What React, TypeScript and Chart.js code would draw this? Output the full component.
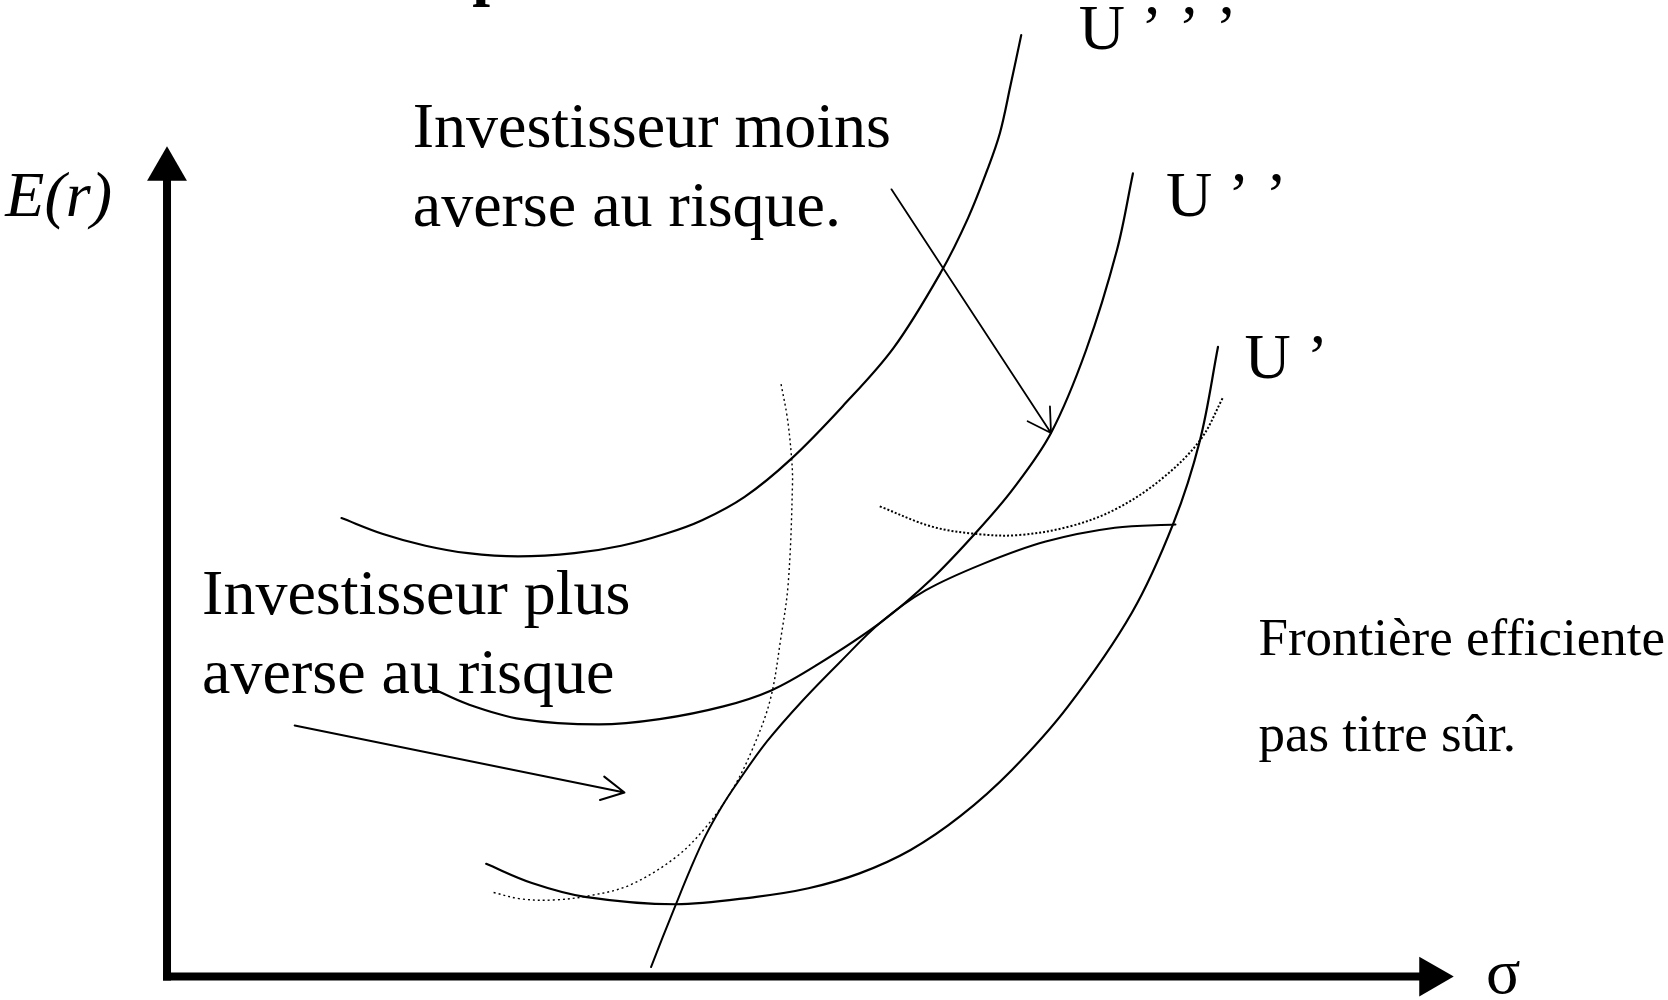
import { useEffect, useRef } from "react";
import { Chart, registerables } from "chart.js";

Chart.register(...registerables);

// ---- Data (σ on x, E(r) on y, arbitrary diagram units, origin at the axes corner) ----
const U3_SIGMA = [164, 203, 243, 283, 330, 383, 427, 468, 503, 543, 586, 635, 683, 728, 753, 771, 783, 793, 803];
const U3_ER = [431, 416, 405, 398, 395, 398, 405, 416, 429, 451, 486, 536, 591, 663, 713, 758, 793, 838, 885];

const U2_SIGMA = [247, 283, 333, 406, 463, 523, 568, 611, 671, 718, 761, 795, 831, 864, 893, 908];
const U2_ER = [272, 256, 242, 237, 242, 254, 269, 293, 333, 373, 418, 458, 511, 589, 683, 755];

const U1_SIGMA = [300, 343, 393, 478, 554, 603, 651, 699, 746, 794, 847, 907, 946, 971, 988];
const U1_ER = [106, 88, 75, 68, 75, 83, 97, 119, 151, 194, 254, 342, 426, 504, 592];

const FRONTIER_SIGMA = [455, 466, 478, 492, 506, 521, 536, 564, 598, 633, 671, 713, 767, 826, 891, 948];
const FRONTIER_ER = [9, 37, 67, 101, 132, 159, 182, 221, 260, 296, 333, 363, 388, 409, 422, 425];

const AVERSE_SIGMA = [307, 333, 363, 397, 435, 478, 507, 531, 550, 567, 577, 584, 588, 587, 583, 577];
const AVERSE_ER = [79, 73, 72, 76, 86, 112, 141, 175, 213, 260, 318, 370, 464, 489, 526, 558];

const TOLERANT_SIGMA = [670, 719, 762, 800, 848, 891, 934, 971, 993];
const TOLERANT_ER = [442, 423, 416, 415, 423, 439, 467, 504, 545];

const ARROW_MOINS_SIGMA = [681, 831, 809, 831, 830];
const ARROW_MOINS_ER = [740, 511, 522, 511, 536];

const ARROW_PLUS_SIGMA = [120, 430, 411, 430, 407];
const ARROW_PLUS_ER = [236, 173, 188, 173, 166];

const AXIS_ER_SIGMA = [0, 0];
const AXIS_ER_ER = [0, 752];
const AXIS_SIGMA_SIGMA = [0, 1180];
const AXIS_SIGMA_ER = [0, 0];
const ARROWHEAD_ER = { x: 0, y: 759 };
const ARROWHEAD_SIGMA = { x: 1188, y: 0 };

const SCALE_SIGMA = { min: -157, max: 1411 };
const SCALE_ER = { min: -22, max: 918 };

// ---- Labels ----
const SERIF = '"Liberation Serif", "Times New Roman", serif';
const LABELS = [
  { text: "Investisseur moins", x: 231, y: 780, font: `64px ${SERIF}` },
  { text: "averse au risque.", x: 231, y: 706, font: `64px ${SERIF}` },
  { text: "Investisseur plus", x: 33, y: 341, font: `64px ${SERIF}` },
  { text: "averse au risque", x: 33, y: 267, font: `64px ${SERIF}` },
  { text: "U \u2019 \u2019 \u2019", x: 857, y: 872, font: `64px ${SERIF}` },
  { text: "U \u2019 \u2019", x: 939, y: 715, font: `64px ${SERIF}` },
  { text: "U \u2019", x: 1013, y: 563, font: `64px ${SERIF}` },
  { text: "Fronti\u00e8re efficiente", x: 1026, y: 302, font: `53px ${SERIF}` },
  { text: "pas titre s\u00fbr.", x: 1026, y: 212, font: `53px ${SERIF}` },
  { text: "E(r)", x: -152, y: 715, font: `italic 64px ${SERIF}` },
  { text: "\u03c3", x: 1240, y: -15, font: `64px ${SERIF}` },
  { text: "p", x: 287, y: 925, font: `bold 64px ${SERIF}` },
];

function pts(xs: number[], ys: number[]) {
  return xs.map((x, i) => ({ x, y: ys[i] }));
}

const labelPlugin = {
  id: "diagramLabels",
  afterDatasetsDraw(chart: any) {
    const { ctx, scales } = chart;
    ctx.save();
    ctx.fillStyle = "#000";
    ctx.textBaseline = "alphabetic";
    ctx.textAlign = "left";
    for (const l of LABELS) {
      ctx.font = l.font;
      ctx.fillText(l.text, scales.x.getPixelForValue(l.x), scales.y.getPixelForValue(l.y));
    }
    ctx.restore();
  },
};

function curve(data: { x: number; y: number }[], width: number, dash: number[] = [], tension = 0.35) {
  return {
    data,
    showLine: true,
    borderColor: "#000",
    backgroundColor: "#000",
    borderWidth: width,
    borderDash: dash,
    borderCapStyle: "round",
    borderJoinStyle: "round",
    pointRadius: 0,
    tension,
    cubicInterpolationMode: "default",
    fill: false,
  };
}

export default function App() {
  const ref = useRef<HTMLCanvasElement>(null);
  useEffect(() => {
    document.body.style.margin = "0";
    if (!ref.current) return;
    const axisStyle = {
      showLine: true,
      borderColor: "#000",
      borderWidth: 8,
      borderCapStyle: "square",
      pointRadius: 0,
      tension: 0,
    };
    const chart = new Chart(ref.current, {
      type: "scatter",
      data: {
        datasets: [
          { ...axisStyle, data: pts(AXIS_ER_SIGMA, AXIS_ER_ER) },
          { ...axisStyle, data: pts(AXIS_SIGMA_SIGMA, AXIS_SIGMA_ER) },
          {
            data: [ARROWHEAD_ER],
            pointStyle: "triangle",
            pointRadius: 23,
            pointRotation: 0,
            backgroundColor: "#000",
            borderWidth: 0,
          },
          {
            data: [ARROWHEAD_SIGMA],
            pointStyle: "triangle",
            pointRadius: 23,
            pointRotation: 90,
            backgroundColor: "#000",
            borderWidth: 0,
          },
          curve(pts(U3_SIGMA, U3_ER), 2.2),
          curve(pts(U2_SIGMA, U2_ER), 2.2),
          curve(pts(U1_SIGMA, U1_ER), 2.2),
          curve(pts(FRONTIER_SIGMA, FRONTIER_ER), 2),
          { ...curve(pts(AVERSE_SIGMA, AVERSE_ER), 1.4, [2, 3]), borderCapStyle: "butt" },
          { ...curve(pts(TOLERANT_SIGMA, TOLERANT_ER), 2, [2, 2]), borderCapStyle: "butt" },
          curve(pts(ARROW_MOINS_SIGMA, ARROW_MOINS_ER), 1.8, [], 0),
          curve(pts(ARROW_PLUS_SIGMA, ARROW_PLUS_ER), 2, [], 0),
        ] as any,
      },
      options: {
        animation: false,
        responsive: false,
        maintainAspectRatio: false,
        events: [],
        layout: { padding: 0, autoPadding: false },
        plugins: { legend: { display: false }, tooltip: { enabled: false }, title: { display: false } },
        scales: {
          x: { type: "linear", display: false, min: SCALE_SIGMA.min, max: SCALE_SIGMA.max },
          y: { type: "linear", display: false, min: SCALE_ER.min, max: SCALE_ER.max },
        },
      } as any,
      plugins: [labelPlugin],
    });
    return () => chart.destroy();
  }, []);
  return (
    <div style={{ position: "absolute", left: 0, top: 0, width: 1668, height: 1000, background: "#fff" }}>
      <canvas ref={ref} width={1668} height={1000} style={{ display: "block", width: 1668, height: 1000 }} />
    </div>
  );
}
